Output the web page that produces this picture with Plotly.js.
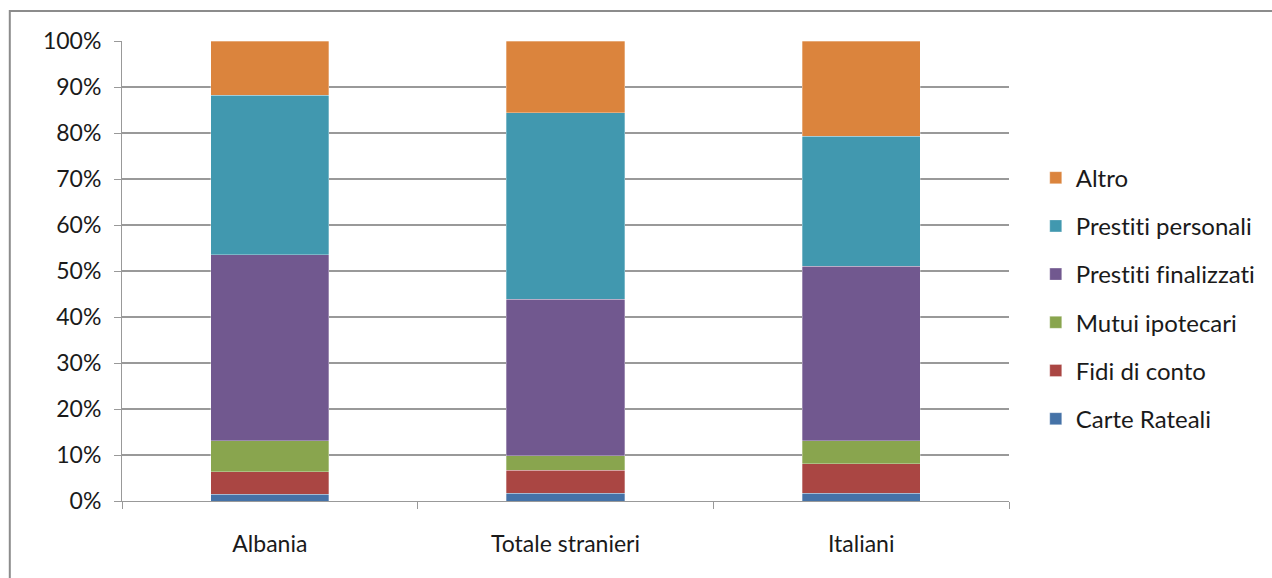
<!DOCTYPE html>
<html><head><meta charset="utf-8">
<script src="https://cdn.plot.ly/plotly-3.0.1.min.js"></script>
<style>html,body{margin:0;padding:0;background:#fff}#c{width:1272px;height:578px}
#c text{font-variant-ligatures:none !important;font-feature-settings:"liga" 0,"clig" 0 !important}</style>
</head><body><div id="c"></div>
<script>
const categories = ["Albania", "Totale stranieri", "Italiani"];
const carteRateali = [1.5, 1.7, 1.7];
const fidiDiConto = [4.9, 5.0, 6.4];
const mutuiIpotecari = [6.7, 3.1, 5.0];
const prestitiFinalizzati = [40.4, 34.1, 37.9];
const prestitiPersonali = [34.7, 40.5, 28.3];
const altro = [11.8, 15.6, 20.7];
const yTickVals = [0,10,20,30,40,50,60,70,80,90,100];
const yTickText = ["0%","10%","20%","30%","40%","50%","60%","70%","80%","90%","100%"];

const series = [
  {name: "Carte Rateali", y: carteRateali, color: "#4572A7"},
  {name: "Fidi di conto", y: fidiDiConto, color: "#AA4643"},
  {name: "Mutui ipotecari", y: mutuiIpotecari, color: "#89A54E"},
  {name: "Prestiti finalizzati", y: prestitiFinalizzati, color: "#71588F"},
  {name: "Prestiti personali", y: prestitiPersonali, color: "#4198AF"},
  {name: "Altro", y: altro, color: "#DB843D"}
];
const traces = series.map((s, i) => ({
  type: "bar", name: s.name, x: categories, y: s.y,
  legendgroup: "g" + i, legendrank: 100 - i,
  marker: {color: s.color, line: {color: "rgba(255,255,255,0.6)", width: 0.5}},
  hoverinfo: "name+y"
}));
const font = {family: "Lato, 'Open Sans', sans-serif", size: 23, color: "#1a1a1a"};
const legendFont = {family: "Lato, 'Open Sans', sans-serif", size: 24, color: "#1a1a1a"};
const layout = {
  width: 1272, height: 578,
  margin: {l: 122, r: 262, t: 41, b: 77},
  barmode: "stack", bargap: 0.6,
  paper_bgcolor: "#fff", plot_bgcolor: "#fff",
  font: font,
  showlegend: true,
  legend: {x: 1.029, xanchor: "left", y: 0.44, yanchor: "middle", traceorder: "grouped",
           tracegroupgap: 14, font: legendFont, bgcolor: "rgba(0,0,0,0)"},
  xaxis: {showline: true, linecolor: "#999", linewidth: 1, ticks: "outside", ticklen: 7,
          tickcolor: "#999", tickson: "boundaries", showgrid: false, zeroline: false,
          tickfont: font, ticklabelstandoff: 22},
  yaxis: {range: [0, 100], tickvals: yTickVals, ticktext: yTickText, showline: true,
          linecolor: "#999", linewidth: 1, ticks: "outside", ticklen: 7, tickcolor: "#999",
          showgrid: true, gridcolor: "#999", gridwidth: 1.2, zeroline: false, tickfont: font,
          ticklabelstandoff: 8},
  shapes: [{type: "rect", xref: "paper", yref: "paper", x0: -0.1265, x1: 1.5,
            y0: -0.4, y1: 1.0652, line: {color: "#8c8c8c", width: 2}}]
};
Plotly.newPlot("c", traces, layout, {staticPlot: true});
</script></body></html>
